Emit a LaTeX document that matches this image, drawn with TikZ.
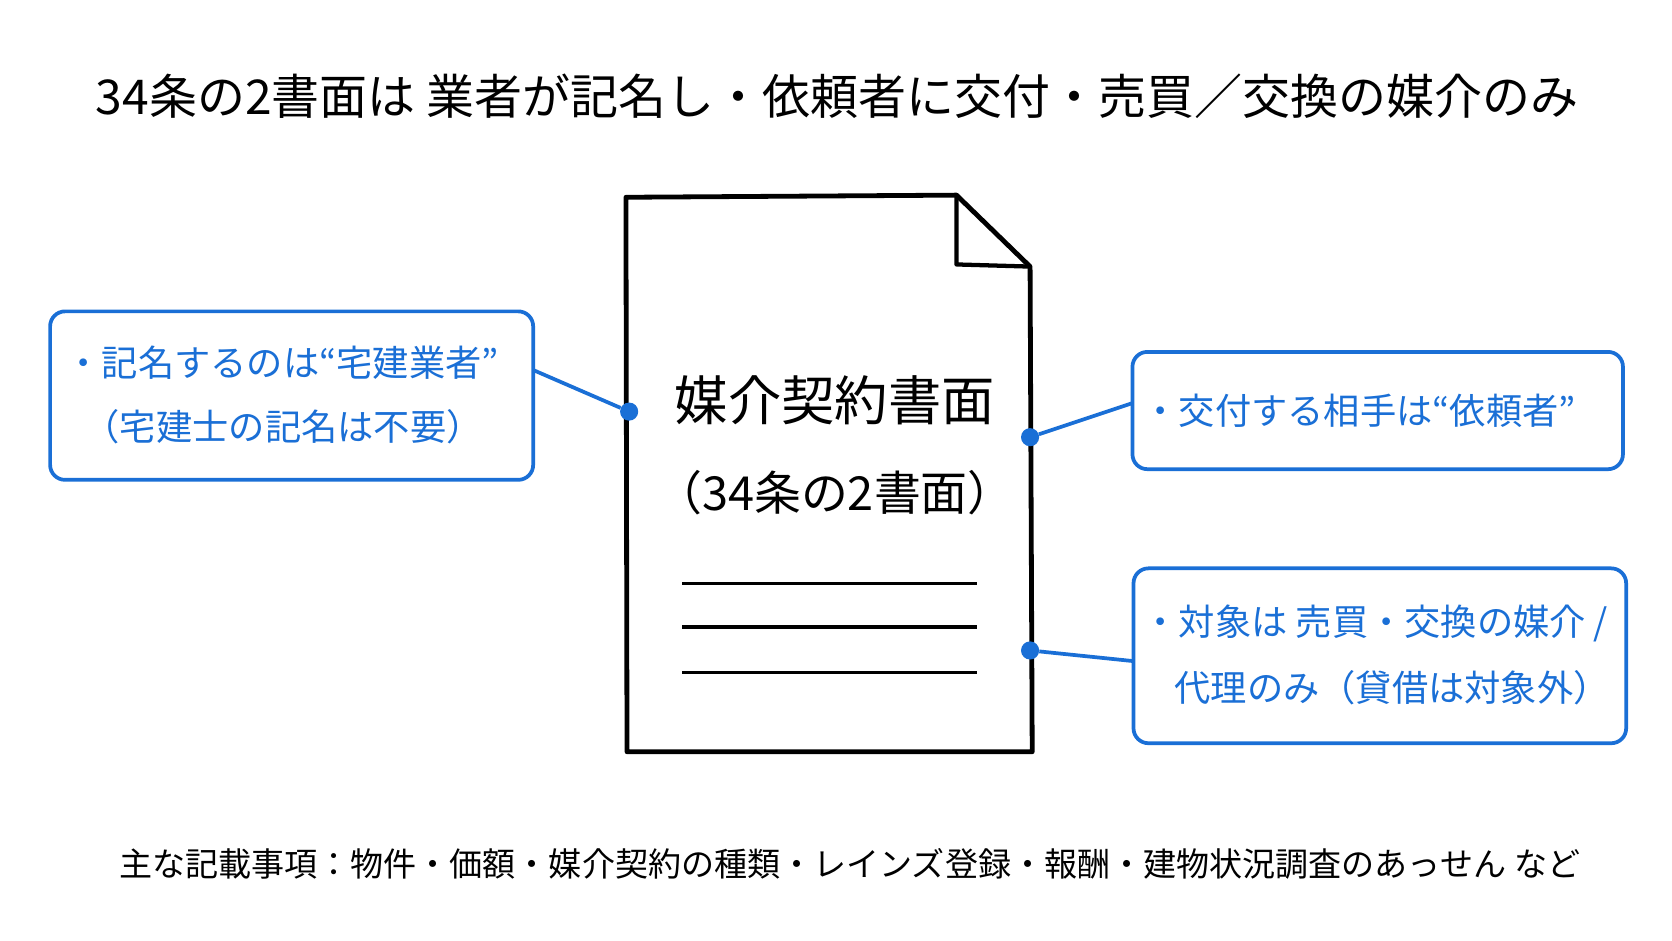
\documentclass[tikz,border=0pt]{standalone}
\usepackage{fontspec}
\setmainfont{Noto Sans CJK JP}
\definecolor{bl}{HTML}{1A6FD6}
\begin{document}
\begin{tikzpicture}[x=1pt,y=-1pt,
 box/.style={draw=bl,line width=3.5pt,rounded corners=14pt},
 btxt/.style={text=bl,font=\fontsize{34}{40}\selectfont,anchor=west},
 dot/.style={circle,fill=bl,inner sep=0pt,minimum size=17pt},
 conn/.style={draw=bl,line width=3.5pt},
 ln/.style={line width=3pt}]
\fill[white] (0,0) rectangle (1568,882);
\useasboundingbox (0,0) rectangle (1568,882);
\node[font=\fontsize{45}{50}\selectfont] (title) at (785,90) {34条の2書面は 業者が記名し・依頼者に交付・売買／交換の媒介のみ};
% document
\draw[line width=4.5pt,line join=round] (587,185) -- (897,183) -- (966,250) -- (968,705) -- (588,705) -- cycle;
\draw[line width=4pt,line join=round] (897,183) -- (897,248) -- (966,250);
\node[font=\fontsize{50}{56}\selectfont] (t1) at (783,375) {媒介契約書面};
\node[font=\fontsize{44}{52}\selectfont] (t2) at (783,462) {（34条の2書面）};
\coordinate (l1a) at (640,547); \coordinate (l1b) at (916,547);
\coordinate (l2a) at (640,588); \coordinate (l2b) at (916,588);
\coordinate (l3a) at (640,631); \coordinate (l3b) at (916,631);
\draw[ln] (l1a)--(l1b); \draw[ln] (l2a)--(l2b); \draw[ln] (l3a)--(l3b);
% left box
\draw[box] (47,292) rectangle (500,450);
\node[btxt] (lb1) at (58,340) {・記名するのは“宅建業者”};
\node[btxt] (lb2) at (75,400) {（宅建士の記名は不要）};
\coordinate (lc) at (500,347);
\node[dot] (d1) at (590,386) {};
\draw[conn] (lc) -- (d1);
% right box 1
\draw[box] (1062,330) rectangle (1522,440);
\node[btxt] (rb1) at (1068,385) {・交付する相手は“依頼者”};
\coordinate (rc1) at (1062,378);
\node[dot] (d2) at (966,410) {};
\draw[conn] (d2) -- (rc1);
% right box 2
\draw[box] (1063,533) rectangle (1525,697);
\node[btxt] (rb2) at (1068,585) {・対象は 売買・交換の媒介 /};
\node[btxt] (rb3) at (1098,645) {代理のみ（貸借は対象外）};
\coordinate (rc2) at (1063,620);
\node[dot] (d3) at (966,610) {};
\draw[conn] (d3) -- (rc2);
% bottom
\node[font=\fontsize{31}{36}\selectfont] (bot) at (797,810) {主な記載事項：物件・価額・媒介契約の種類・レインズ登録・報酬・建物状況調査のあっせん など};
\end{tikzpicture}
\end{document}
